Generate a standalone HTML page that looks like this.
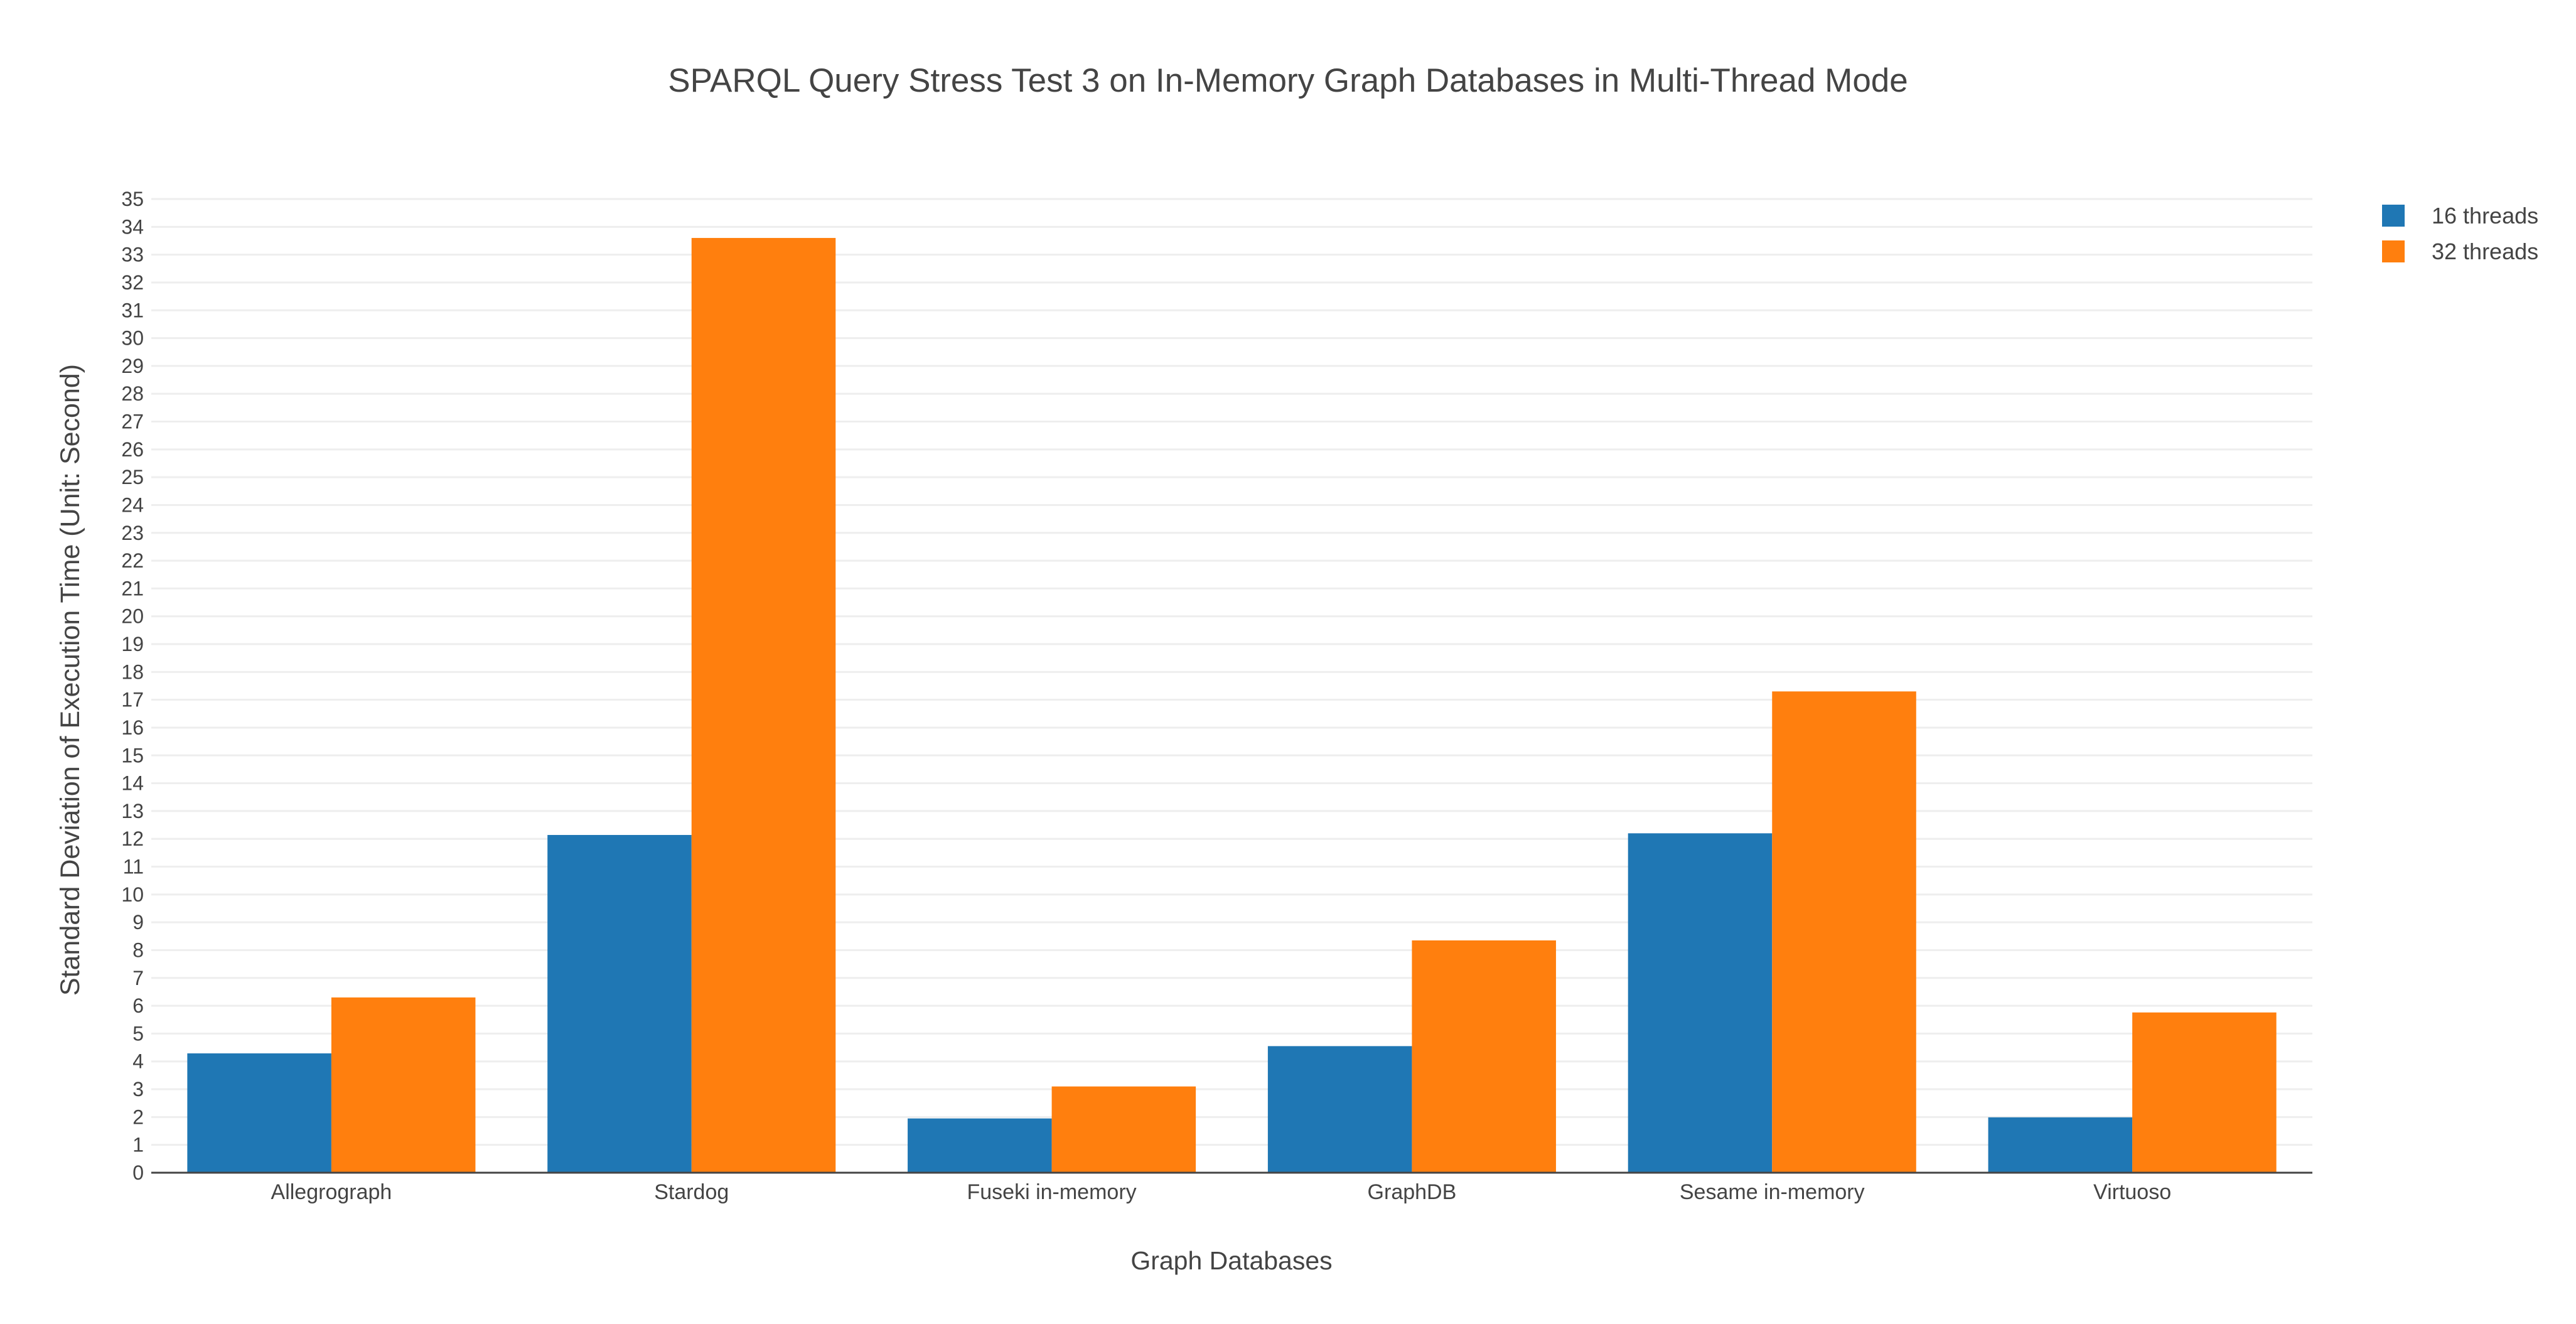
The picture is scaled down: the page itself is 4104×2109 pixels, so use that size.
<!DOCTYPE html>
<html><head><meta charset="utf-8"><style>
html,body{margin:0;padding:0;background:#fff;}
svg{display:block;font-family:"Liberation Sans","DejaVu Sans",sans-serif;}
</style></head><body>
<svg id="chart" width="4104" height="2109" viewBox="0 0 4104 2109">
<text x="2052" y="146" text-anchor="middle" font-size="53" fill="#444">SPARQL Query Stress Test 3 on In-Memory Graph Databases in Multi-Thread Mode</text>
<g id="grid"></g><g id="bars"></g><g id="yticks"></g><g id="xticks"></g>
<line x1="241" x2="3684" y1="1868" y2="1868" stroke="#444" stroke-width="3"/>
<text x="1962" y="2022" text-anchor="middle" font-size="41" fill="#444">Graph Databases</text>
<text transform="translate(126,1083) rotate(-90)" text-anchor="middle" font-size="43" fill="#444">Standard Deviation of Execution Time (Unit: Second)</text>
<g>
<g><rect x="3795" y="326" width="36" height="35" fill="#1f77b4"/><text x="3874" y="356" font-size="36" fill="#444">16 threads</text></g>
<g><rect x="3795" y="383" width="36" height="35" fill="#ff7f0e"/><text x="3874" y="413" font-size="36" fill="#444">32 threads</text></g>
</g>
</svg>
<script>
const categories = ["Allegrograph","Stardog","Fuseki in-memory","GraphDB","Sesame in-memory","Virtuoso"];
const threads16 = [4.29, 12.14, 1.95, 4.55, 12.2, 1.99];
const threads32 = [6.3, 33.6, 3.1, 8.35, 17.3, 5.76];
const yTicks = [0,1,2,3,4,5,6,7,8,9,10,11,12,13,14,15,16,17,18,19,20,21,22,23,24,25,26,27,28,29,30,31,32,33,34,35];
const NS="http://www.w3.org/2000/svg";
const X0=241,X1=3684,Y0=1868,Y1=317,YMAX=35;
const y=v=>Y0-(v/YMAX)*(Y0-Y1);
const bw=(X1-X0)/categories.length;
const xc=i=>X0+bw*(i+0.5);
function mk(tag,attrs,parent){const e=document.createElementNS(NS,tag);for(const k in attrs)e.setAttribute(k,attrs[k]);parent.appendChild(e);return e;}
const grid=document.getElementById('grid'),yt=document.getElementById('yticks'),xt=document.getElementById('xticks'),bars=document.getElementById('bars');
yTicks.forEach(t=>{
  if(t>0){const l=mk('line',{x1:X0,x2:X1,y1:y(t),y2:y(t),stroke:'#eee','stroke-width':3},grid);
  
  }
  const tx=mk('text',{x:X0-12,y:y(t)+11,'text-anchor':'end','font-size':32,fill:'#444'},yt);
  tx.textContent=t;
  
  
});
const gw=bw*0.8,sw=gw/2;
categories.forEach((c,i)=>{
  const left=xc(i)-gw/2;
  const b1=mk('rect',{x:left,y:y(threads16[i]),width:sw,height:Y0-y(threads16[i]),fill:'#1f77b4'},bars);
  
  
  const b2=mk('rect',{x:left+sw,y:y(threads32[i]),width:sw,height:Y0-y(threads32[i]),fill:'#ff7f0e'},bars);
  
  
  const tx=mk('text',{x:xc(i),y:Y0+42,'text-anchor':'middle','font-size':34,fill:'#444'},xt);
  tx.textContent=c;
  
  
});
</script>
</body></html>
